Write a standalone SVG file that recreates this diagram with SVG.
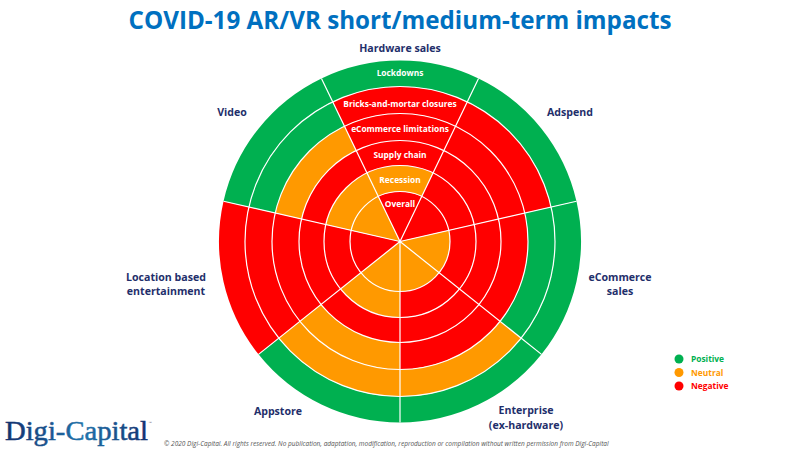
<svg xmlns="http://www.w3.org/2000/svg" xmlns:xlink="http://www.w3.org/1999/xlink" width="800" height="450" viewBox="0 0 800 450">
<style>
text{font-family:"Open Sans","Noto Sans","Liberation Sans",sans-serif;font-weight:700}
.t{font-size:24.2px;fill:#0070c0;text-anchor:middle}
.l{font-size:10.6px;fill:#1f2f6b;text-anchor:middle}
.w{font-size:8.4px;fill:#fff;text-anchor:middle}
.leg{font-size:8.4px}
.g{fill:#00b050}.o{fill:#ff9900}.r{fill:#ff0000}
.sep{stroke:#fff;stroke-width:1.2;fill:none}
</style>
<defs>
<path id="c1" d="M0 0L-21.69-45.05A50 50 0 0 1 21.69-45.05Z"/>
<path id="c2" d="M-21.69-45.05L-32.97-68.47A76 76 0 0 1 32.97-68.47L21.69-45.05A50 50 0 0 0-21.69-45.05Z"/>
<path id="c3" d="M-32.97-68.47L-43.82-91A101 101 0 0 1 43.82-91L32.97-68.47A76 76 0 0 0-32.97-68.47Z"/>
<path id="c4" d="M-43.82-91L-55.54-115.32A128 128 0 0 1 55.54-115.32L43.82-91A101 101 0 0 0-43.82-91Z"/>
<path id="c5" d="M-55.54-115.32L-67.25-139.65A155 155 0 0 1 67.25-139.65L55.54-115.32A128 128 0 0 0-55.54-115.32Z"/>
<path id="c6" d="M-67.25-139.65L-78.53-163.08A181 181 0 0 1 78.53-163.08L67.25-139.65A155 155 0 0 0-67.25-139.65Z"/>
<linearGradient id="logo" x1="0" y1="0" x2="1" y2="0"><stop offset="0" stop-color="#12306e"/><stop offset=".55" stop-color="#1f73ab"/><stop offset="1" stop-color="#12306e"/></linearGradient>
</defs>
<text class="t" x="400" y="28.500">COVID-19 AR/VR short/medium-term impacts</text>
<g id="wheel" transform="translate(400 241.5)">
<g id="sector-hardware-sales"><use xlink:href="#c1" class="r"/><use xlink:href="#c2" class="o"/><use xlink:href="#c3" class="r"/><use xlink:href="#c4" class="r"/><use xlink:href="#c5" class="r"/><use xlink:href="#c6" class="g"/></g>
<g id="sector-adspend" transform="rotate(51.4286)"><use xlink:href="#c1" class="r"/><use xlink:href="#c2" class="r"/><use xlink:href="#c3" class="r"/><use xlink:href="#c4" class="r"/><use xlink:href="#c5" class="r"/><use xlink:href="#c6" class="g"/></g>
<g id="sector-ecommerce-sales" transform="rotate(102.857)"><use xlink:href="#c1" class="o"/><use xlink:href="#c2" class="r"/><use xlink:href="#c3" class="r"/><use xlink:href="#c4" class="r"/><use xlink:href="#c5" class="g"/><use xlink:href="#c6" class="g"/></g>
<g id="sector-enterprise" transform="rotate(154.286)"><use xlink:href="#c1" class="o"/><use xlink:href="#c2" class="r"/><use xlink:href="#c3" class="r"/><use xlink:href="#c4" class="r"/><use xlink:href="#c5" class="o"/><use xlink:href="#c6" class="g"/></g>
<g id="sector-appstore" transform="rotate(205.714)"><use xlink:href="#c1" class="o"/><use xlink:href="#c2" class="o"/><use xlink:href="#c3" class="r"/><use xlink:href="#c4" class="o"/><use xlink:href="#c5" class="o"/><use xlink:href="#c6" class="g"/></g>
<g id="sector-location" transform="rotate(257.143)"><use xlink:href="#c1" class="r"/><use xlink:href="#c2" class="r"/><use xlink:href="#c3" class="r"/><use xlink:href="#c4" class="r"/><use xlink:href="#c5" class="r"/><use xlink:href="#c6" class="r"/></g>
<g id="sector-video" transform="rotate(308.571)"><use xlink:href="#c1" class="o"/><use xlink:href="#c2" class="o"/><use xlink:href="#c3" class="r"/><use xlink:href="#c4" class="o"/><use xlink:href="#c5" class="g"/><use xlink:href="#c6" class="g"/></g>
<g id="rings" class="sep">
<circle r="50"/><circle r="76"/><circle r="101"/><circle r="128"/><circle r="155"/>
<path d="M0 0L-78.53-163.08M0 0L78.53-163.08M0 0L176.46-40.28M0 0L141.51 112.85M0 0V181M0 0L-141.51 112.85M0 0L-176.46-40.28"/>
</g>
</g>
<g id="ring-labels">
<text class="w" x="400" y="76">Lockdowns</text>
<text class="w" x="400" y="106.500">Bricks-and-mortar closures</text>
<text class="w" x="400" y="132">eCommerce limitations</text>
<text class="w" x="400" y="158">Supply chain</text>
<text class="w" x="400" y="183">Recession</text>
<text class="w" x="400" y="207">Overall</text>
</g>
<g id="sector-labels">
<text class="l" x="400" y="52">Hardware sales</text>
<text class="l" x="232" y="116">Video</text>
<text class="l" x="570" y="116">Adspend</text>
<text class="l" x="620" y="281">eCommerce</text>
<text class="l" x="620" y="295">sales</text>
<text class="l" x="166" y="281">Location based</text>
<text class="l" x="166" y="295">entertainment</text>
<text class="l" x="278" y="415">Appstore</text>
<text class="l" x="526" y="414">Enterprise</text>
<text class="l" x="526" y="429">(ex-hardware)</text>
</g>
<g id="legend">
<circle cx="679" cy="359" r="4.5" class="g"/><text class="leg g" x="691" y="362">Positive</text>
<circle cx="679" cy="372.500" r="4.500" class="o"/><text class="leg o" x="691" y="375.500">Neutral</text>
<circle cx="679" cy="386" r="4.5" class="r"/><text class="leg r" x="691" y="389">Negative</text>
</g>
<text id="logo-text" x="5" y="440" fill="url(#logo)" stroke="url(#logo)" stroke-width=".5" textLength="143" lengthAdjust="spacingAndGlyphs" style="font-family:'Liberation Serif',serif;font-weight:400;font-size:27px">Digi-Capital</text>
<text x="148.500" y="424" fill="#667" style="font-family:'Liberation Sans',sans-serif;font-weight:400;font-size:3.5px">™</text>
<text x="164" y="446" fill="#555" style="font-style:italic;font-weight:400;font-size:6.5px">© 2020 Digi-Capital. All rights reserved. No publication, adaptation, modification, reproduction or compilation without written permission from Digi-Capital</text>
</svg>
